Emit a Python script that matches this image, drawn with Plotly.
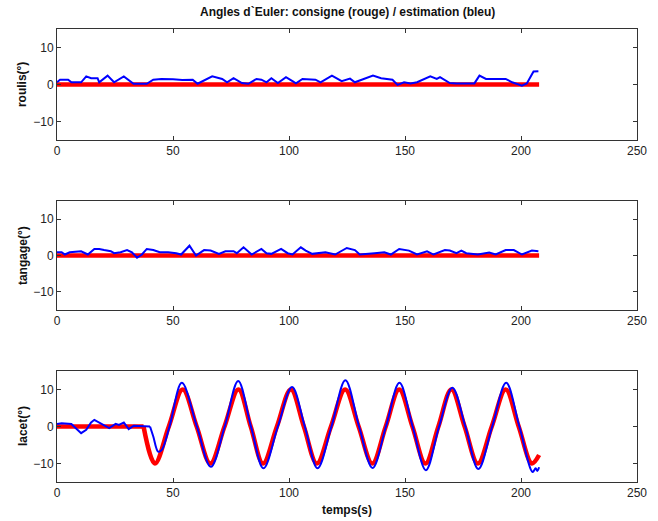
import plotly.graph_objects as go

# ---------------- data ----------------
roulis_t = [0, 1.3, 4.8, 6.2, 10.4, 12.6, 14.7, 17.5, 18.2, 21.8, 24.6, 28.8, 33.0, 38.7, 41.5,
            45, 50, 54, 58.5, 60.6, 66.9, 71.2, 73.3, 76.1, 79.7, 82.5, 86, 88.1, 90.3, 92.4,
            95.2, 98.7, 101.5, 103, 105.8, 111.4, 113.6, 118.5, 122.7, 126.3, 128.4, 131.2,
            136.2, 139.7, 144.6, 146.8, 149.6, 152.4, 155.2, 160.9, 163.7, 165.1, 169.3, 172.2,
            176.4, 179.9, 182.1, 184.9, 193.4, 196.2, 200.4, 202.5, 205.4, 207.5]
roulis_est = [0.6, 1.3, 1.3, 0.6, 0.6, 2.2, 1.7, 1.7, 0.6, 2.4, 0.6, 2.2, 0.2, 0.2, 1.3,
              1.5, 1.4, 1.2, 1.3, 0.2, 2.2, 1.5, 0.6, 1.7, 0.4, 0.2, 1.5, 1.3, 0.6, 1.7,
              0.4, 2.0, 0.9, 0.3, 1.5, 1.3, 0.6, 2.4, 0.9, 1.6, 0.6, 1.3,
              2.4, 1.7, 1.3, -0.1, 0.6, 0.3, 0.6, 2.2, 1.5, 2.0, 0.4, 0.3,
              0.4, 0.3, 2.4, 1.5, 1.5, 0.6, -0.3, 0.3, 3.5, 3.6]

tangage_t = [0, 2.0, 3.4, 5.5, 10.4, 13.3, 16.1, 18.2, 20.3, 23.2, 24.6, 27.4, 30.2, 32.3, 34.5,
             36.6, 38.7, 41.5, 44.3, 47.9, 51.4, 53.5, 57.1, 59.9, 63.4, 66.2, 69.8, 72.6, 76.1,
             77.5, 80.4, 83.9, 88.1, 90.3, 92.4, 96.6, 99.4, 101.5, 105.1, 107.2, 110.0, 115.7,
             119.9, 124.9, 128.4, 130.5, 136.9, 141.1, 143.9, 147.5, 151.7, 155.2, 159.5, 162.3,
             167.2, 169.3, 172.2, 174.3, 176.4, 181.4, 186.3, 189.1, 193.4, 196.9, 200.4, 204.7, 207.5]
tangage_est = [0.9, 0.9, 0.27, 0.9, 1.17, 0.27, 1.8, 1.8, 1.5, 1.17, 0.63, 0.9, 1.5, 0.9, -0.63,
               0.27, 1.8, 1.5, 0.9, 0.9, 0.63, 0.27, 2.7, 0, 1.5, 1.35, 0.45, 1.17, 1.17,
               0.63, 2.25, 0.27, 1.8, 0.63, 0.45, 1.8, 0.63, 0.27, 2.25, 1.35, 0.45, 0.9,
               0.27, 2.07, 1.5, 0.27, 0.63, 0.9, 0.27, 1.8, 1.35, 0.27, 1.17, 0.27,
               1.5, 1.35, 0.63, 1.35, 0.63, 0.27, 0.81, 0.27, 1.5, 1.5, 0.27, 1.35, 1.17]

consigne_flat_t = [0, 207.8]
consigne_flat_v = [0, 0]

lacet_cons_flat_t = [0, 37.3]
lacet_cons_flat_v = [0, 0]
lacet_cons_t = [37.3, 42.2, 48.2, 54.2, 60.2, 66.1, 72.2, 78.2, 83.5, 88.8, 94.8, 100.8, 106.4,
                112.0, 118.1, 124.2, 130.0, 135.9, 141.7, 147.5, 153.2, 158.8, 164.4, 170.0,
                175.7, 181.4, 187.4, 193.4, 199.0, 204.7, 207.8]
lacet_cons_v = [0, -10, 0, 10, 0, -10, 0, 10, 0, -10, 0, 10, 0,
                -10, 0, 10, 0, -10, 0, 10, 0, -10, 0, 10,
                0, -10, 0, 10, 0, -10, -7.7]

lacet_est_a_t = [0, 2.0, 6.2, 8.3, 10.4, 12.6, 14.7, 16.1, 18.2, 20.3, 22.5, 25.3, 26.7, 28.8,
                 30.9, 33.1, 35.9, 38.0, 40.1]
lacet_est_a_v = [0.7, 0.9, 0.7, -0.45, -1.8, -0.9, 1.1, 1.8, 1.1, 0.45, -0.45, 0.7, 0.45, 1.1,
                 -0.7, 0.2, 0.2, 0.2, 0]
lacet_est_b_t = [40.1, 41.5, 43.6, 45.1, 48.5, 53.8, 60.3, 66.3, 72.3, 78.1, 83.6, 89.0, 95.2,
                 101.3, 106.8, 112.3, 118.3, 124.3, 130.2, 136.0, 141.8, 147.6, 153.3, 159.0,
                 164.7, 170.4, 176.0, 181.6, 187.6, 193.6, 199.3, 205.0, 206.3, 207.0, 207.8]
lacet_est_b_v = [0, -2.7, -6.8, -6.4, 0, 11.8, 0, -10.9, 0, 12.3, 0, -11.3, 0,
                 10.7, 0, -11.3, 0, 12.5, 0, -11.2, 0, 11.8, 0, -11.8,
                 0, 10.5, 0, -11.5, 0, 11.8, 0, -12.3, -11.3, -12.0, -11.0]

x_ticks = [0, 50, 100, 150, 200, 250]
y_ticks = [-10, 0, 10]
y_titles = ["roulis(°)", "tangage(°)", "lacet(°)"]
title = "Angles d`Euler: consigne (rouge) / estimation (bleu)"

# ---------------- figure ----------------
RED = "#ff0000"
BLUE = "#0000ff"
W, H = 658, 521
ml, mr, mt, mb = 57, 11, 29, 39
ph = H - mt - mb


def py(px):
    return (H - mb - px) / ph

fig = go.Figure()

def add(x, y, axis, color, width, shape="linear"):
    fig.add_trace(go.Scatter(x=x, y=y, mode="lines", xaxis="x" + axis, yaxis="y" + axis,
                             line=dict(color=color, width=width, shape=shape, smoothing=1.0),
                             showlegend=False, hoverinfo="skip"))

add(consigne_flat_t, consigne_flat_v, "", RED, 4.5)
add(roulis_t, roulis_est, "", BLUE, 2)
add(consigne_flat_t, consigne_flat_v, "2", RED, 4.5)
add(tangage_t, tangage_est, "2", BLUE, 2)
add(lacet_cons_flat_t, lacet_cons_flat_v, "3", RED, 4.5)
add(lacet_cons_t, lacet_cons_v, "3", RED, 4.5, "spline")
add(lacet_est_a_t, lacet_est_a_v, "3", BLUE, 2)
add(lacet_est_b_t, lacet_est_b_v, "3", BLUE, 2, "spline")

tickfont = dict(family="Liberation Sans, Arial, sans-serif", size=12, color="#222")
axcommon = dict(showline=True, linecolor="#333", linewidth=1, mirror="ticks", ticks="inside",
                ticklen=4, tickcolor="#333", showgrid=False, zeroline=False, tickfont=tickfont)

domains = [(py(140), py(29)), (py(310), py(201)), (py(482), py(371))]
layout = dict(width=W, height=H, margin=dict(l=ml, r=mr, t=mt, b=mb),
              paper_bgcolor="white", plot_bgcolor="white", showlegend=False)
for i, (d0, d1) in enumerate(domains):
    s = "" if i == 0 else str(i + 1)
    layout["xaxis" + s] = dict(axcommon, range=[0, 250], tickvals=x_ticks,
                               anchor="y" + s, domain=[0, 1])
    layout["yaxis" + s] = dict(axcommon, range=[-15, 15], tickvals=y_ticks,
                               anchor="x" + s, domain=[d0, d1])
fig.update_layout(**layout)

labfont = dict(family="Liberation Sans, Arial, sans-serif", size=12, color="#111")
centers = [84.5, 255.5, 426.5]
for t, c in zip(y_titles, centers):
    fig.add_annotation(text="<b>" + t + "</b>", xref="paper", yref="paper",
                       x=(22 - ml) / (W - ml - mr), y=py(c), textangle=-90,
                       showarrow=False, font=labfont, xanchor="center", yanchor="middle")
fig.add_annotation(text="<b>temps(s)</b>", xref="paper", yref="paper", x=0.5, y=py(510),
                   showarrow=False, font=labfont, xanchor="center", yanchor="middle")
fig.add_annotation(text="<b>" + title + "</b>", xref="paper", yref="paper", x=0.5, y=py(12),
                   showarrow=False, font=labfont, xanchor="center", yanchor="middle")

fig.write_html("out.html", config={"displayModeBar": False},
               post_script="document.body.style.margin='0';document.body.style.overflow='hidden';")
